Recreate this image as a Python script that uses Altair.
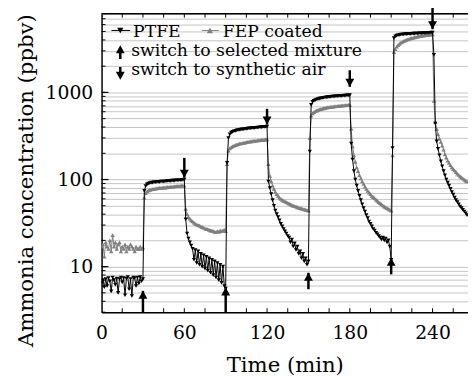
import altair as alt
import pandas as pd

FONT = "DejaVu Serif"

# ---- data ----
time_min = list(range(0, 266))

ptfe_air0 = [6.5, 7.0, 5.8, 7.2, 6.0, 7.4, 6.8, 5.2, 7.5, 7.0, 6.2, 7.3, 5.0, 7.2, 7.5, 6.6,
             7.4, 4.7, 7.3, 7.6, 5.5, 7.2, 4.6, 7.5, 7.4, 6.0, 7.5, 6.4, 7.6, 6.8, 7.2]
ptfe_mix1 = [74, 84, 88, 90, 91, 92, 92, 93, 93, 94, 94, 94, 95, 95, 95, 95, 96, 96, 96, 96,
             97, 97, 97, 98, 98, 98, 98, 99, 99, 100]
ptfe_air1 = [35, 24, 21, 19, 17.5, 16, 12, 15.5, 11, 15, 10.5, 14, 10, 13.5, 9.5, 13, 9, 12.5,
             8.5, 12, 8, 11.5, 7.5, 11, 7, 10.5, 6.5, 10, 6, 5.6]
ptfe_mix2 = [155, 300, 330, 345, 352, 358, 362, 366, 369, 372, 374, 376, 378, 380, 382, 384,
             386, 387, 389, 390, 392, 393, 395, 396, 398, 399, 400, 402, 403, 405]
ptfe_air2 = [95, 80, 68, 58, 50, 44, 40, 37, 34, 31, 29, 27, 25.5, 24, 22.5, 21.5, 19, 20.5,
             17, 18.5, 15.5, 17, 14, 15, 12.5, 14, 11.5, 12.5, 10.5, 11.5]
ptfe_mix3 = [210, 720, 780, 800, 815, 830, 840, 848, 855, 862, 868, 873, 878, 882, 886, 890,
             893, 896, 899, 902, 905, 908, 911, 913, 916, 918, 921, 924, 927, 930]
ptfe_air3 = [259, 170, 125, 100, 85, 74, 65, 58, 52, 47, 43, 39, 36, 33, 31, 29, 27, 26, 24.5,
             23.5, 22.5, 21.5, 20.5, 21.5, 20, 21, 19, 20, 17, 12]
ptfe_mix4 = [230, 4200, 4400, 4480, 4530, 4570, 4600, 4620, 4640, 4660, 4670, 4680, 4690, 4700,
             4710, 4720, 4730, 4740, 4750, 4760, 4770, 4780, 4790, 4800, 4810, 4820, 4830,
             4840, 4850, 4860]
ptfe_air4 = [2700, 440, 274, 225, 190, 162, 142, 125, 112, 100, 92, 85, 78, 72, 67, 62, 58, 55,
             52, 49, 47, 45, 43, 41, 39]

fep_air0 = [17, 18, 13, 19, 17, 16, 20, 15, 23, 17, 19, 16, 18, 19, 15, 17, 16, 18, 15, 17, 16,
            18, 17, 16, 15, 17, 16, 16, 17, 16, 16.5]
fep_mix1 = [62, 70, 73, 75, 76, 77, 77.5, 78, 78.5, 79, 79.5, 80, 80, 80.5, 81, 81, 81.5, 82, 82,
            82.5, 83, 83, 83.5, 84, 84, 84, 84.5, 85, 85, 85]
fep_air1 = [46, 40, 37, 35.5, 34, 33, 32, 31, 30.5, 30, 29.5, 29, 28.5, 28, 27.5, 27, 27, 26.5,
            26, 26, 25.5, 25, 25, 25.5, 25, 26, 25.5, 26, 26.5, 25.5]
fep_mix2 = [150, 215, 228, 235, 240, 245, 249, 252, 255, 258, 260, 262, 264, 266, 268, 270, 272,
            274, 275, 277, 278, 280, 281, 282, 284, 285, 286, 287, 288, 289]
fep_air2 = [150, 110, 95, 85, 78, 72, 68, 65, 62, 60, 58.5, 57, 56, 55, 54, 53, 52, 51, 50, 49.5,
            49, 48, 47.5, 47, 46.5, 46, 45.5, 45, 44.5, 44]
fep_mix3 = [300, 540, 575, 595, 610, 620, 630, 638, 645, 652, 658, 663, 668, 672, 676, 680, 684,
            688, 691, 694, 697, 700, 703, 706, 709, 711, 714, 716, 718, 720]
fep_air3 = [385, 240, 190, 160, 138, 125, 112, 103, 95, 89, 83, 78, 74, 71, 68, 65, 63, 61, 59,
            57, 55, 53.5, 52, 50.5, 49, 48, 47, 46, 45, 44]
fep_mix4 = [190, 2900, 3150, 3350, 3500, 3620, 3720, 3800, 3880, 3950, 4010, 4070, 4120, 4170,
            4210, 4250, 4290, 4330, 4370, 4400, 4430, 4460, 4490, 4520, 4540, 4560, 4580, 4600,
            4615, 4630]
fep_air4 = [800, 460, 380, 330, 295, 270, 245, 220, 195, 178, 165, 155, 146, 138, 132, 127, 122,
            117, 113, 109, 106, 103, 100, 97, 95]

ptfe = (ptfe_air0 + ptfe_mix1 + ptfe_air1 + ptfe_mix2 + ptfe_air2 + ptfe_mix3 + ptfe_air3
        + ptfe_mix4 + ptfe_air4)
fep = (fep_air0 + fep_mix1 + fep_air1 + fep_mix2 + fep_air2 + fep_mix3 + fep_air3
       + fep_mix4 + fep_air4)

# switch annotations
down_t = [60, 120, 180, 240]
down_top = [177, 648, 1795, 9350]
down_tip = [105, 427, 1160, 5310]
up_t = [30, 90, 150, 210]
up_bottom = [3.0, 3.0, 5.5, 8.15]
up_tip = [5.27, 5.77, 8.5, 12.6]

# legend texts
legend_labels = ["PTFE", "FEP coated", "switch to selected mixture", "switch to synthetic air"]

x_ticks = [0, 60, 120, 180, 240]
x_minor = [15, 30, 45, 60, 75, 90, 105, 120, 135, 150, 165, 180, 195, 210, 225, 240, 255]
y_major = [10, 100, 1000]
y_grid = [3, 4, 5, 6, 7, 8, 9, 10, 20, 30, 40, 50, 60, 70, 80, 90,
          100, 200, 300, 400, 500, 600, 700, 800, 900,
          1000, 2000, 3000, 4000, 5000, 6000, 7000, 8000]

W, H = 372, 303
GRAY = "#7f7f7f"

df = pd.DataFrame({"t": time_min, "PTFE": ptfe, "FEP": fep})
down_df = pd.DataFrame({"t": down_t, "top": down_top, "tip": down_tip})
up_df = pd.DataFrame({"t": up_t, "bottom": up_bottom, "tip": up_tip})
ymaj_df = pd.DataFrame({"v": y_major})
ygrid_df = pd.DataFrame({"v": y_grid})
xmin_df = pd.DataFrame({"t": x_minor})

xs = alt.Scale(domain=[0, W / 1.4], nice=False, zero=False)
ys = alt.Scale(type="log", domain=[3, 8000], nice=False)

x_axis = alt.Axis(values=x_ticks, grid=False, ticks=False, tickSize=0, labelFlush=False,
                  labelFont=FONT, labelFontSize=19, labelColor="black", labelPadding=27,
                  labelBaseline="alphabetic", domainColor="black", domainWidth=1.5,
                  title="Time (min)", titleFont=FONT, titleFontSize=21.5,
                  titleFontWeight="normal", titleColor="black", titleX=W / 2, titleY=60,
                  titleBaseline="alphabetic")
y_axis = alt.Axis(values=y_grid, format="d",
                  labelExpr="datum.value == 10 || datum.value == 100 || datum.value == 1000 ? datum.label : ''",
                  grid=True, gridColor="#c4c4c4", gridWidth=1, ticks=False, tickSize=0,
                  labelOverlap=False, labelFlush=False,
                  labelFont=FONT, labelFontSize=19, labelColor="black", labelPadding=9,
                  domainColor="black", domainWidth=1.5,
                  title="Ammonia concentration (ppbv)", titleFont=FONT, titleFontSize=21.5,
                  titleFontWeight="normal", titleColor="black", titleX=-70, titleY=169,
                  titleBaseline="alphabetic")


def X(field):
    return alt.X(field, type="quantitative", scale=xs, axis=x_axis)


def Y(field):
    return alt.Y(field, type="quantitative", scale=ys, axis=y_axis)


base = alt.Chart(df)
fep_line = base.mark_line(color=GRAY, strokeWidth=1, clip=True).encode(x=X("t"), y=Y("FEP"))
fep_pts = base.mark_point(shape="triangle-up", filled=True, size=20, color=GRAY, opacity=1,
                          clip=True).encode(x=X("t"), y=Y("FEP"))
ptfe_line = base.mark_line(color="black", strokeWidth=1, clip=True).encode(x=X("t"), y=Y("PTFE"))
ptfe_pts = base.mark_point(shape="triangle-down", filled=True, size=18, color="black",
                           opacity=1, clip=True).encode(x=X("t"), y=Y("PTFE"))

# inward ticks
y_minor_ticks = alt.Chart(ygrid_df).mark_rule(color="black", strokeWidth=1).encode(
    y=Y("v"), x=alt.value(0), x2=alt.value(4))
y_major_ticks = alt.Chart(ymaj_df).mark_rule(color="black", strokeWidth=1.2).encode(
    y=Y("v"), x=alt.value(0), x2=alt.value(7))
x_bottom_ticks = alt.Chart(xmin_df).mark_rule(color="black", strokeWidth=1).encode(
    x=X("t"), y=alt.value(H), y2=alt.value(H - 4))
x_top_ticks = alt.Chart(xmin_df).mark_rule(color="black", strokeWidth=1).encode(
    x=X("t"), y=alt.value(0), y2=alt.value(4))
one = pd.DataFrame({"a": [0]})
top_border = alt.Chart(one).mark_rule(color="black", strokeWidth=1.5).encode(
    x=alt.value(0), x2=alt.value(W), y=alt.value(0))

# switch arrows
HEAD_DOWN = "M-1,-1.8L1,-1.8L0,0Z"
HEAD_UP = "M-1,1.8L1,1.8L0,0Z"
down_shaft = alt.Chart(down_df).mark_rule(color="black", strokeWidth=2.5).encode(
    x=X("t"), y=Y("top"), y2="tip:Q")
down_head = alt.Chart(down_df).mark_point(shape=HEAD_DOWN, filled=True, size=81, color="black",
                                          opacity=1).encode(x=X("t"), y=Y("tip"))
up_shaft = alt.Chart(up_df).mark_rule(color="black", strokeWidth=2.5).encode(
    x=X("t"), y=Y("bottom"), y2="tip:Q")
up_head = alt.Chart(up_df).mark_point(shape=HEAD_UP, filled=True, size=81, color="black",
                                      opacity=1).encode(x=X("t"), y=Y("tip"))

leg_df = pd.DataFrame({"label": legend_labels})


def txt(i, x, y):
    return alt.Chart(leg_df).transform_filter(
        alt.datum.label == legend_labels[i]
    ).mark_text(style="legtext", align="left", baseline="alphabetic", font=FONT,
                fontSize=17.5, color="black").encode(
        x=alt.value(x), y=alt.value(y), text="label:N")


leg = [
    alt.Chart(one).mark_rule(color="black", strokeWidth=1).encode(
        x=alt.value(10), x2=alt.value(29), y=alt.value(17)),
    alt.Chart(one).mark_point(shape="triangle-down", filled=True, size=40, color="black",
                              opacity=1).encode(x=alt.value(19), y=alt.value(17)),
    txt(0, 32, 23.5),
    alt.Chart(one).mark_rule(color=GRAY, strokeWidth=1).encode(
        x=alt.value(102), x2=alt.value(119), y=alt.value(17)),
    alt.Chart(one).mark_point(shape="triangle-up", filled=True, size=40, color=GRAY,
                              opacity=1).encode(x=alt.value(110), y=alt.value(17)),
    txt(1, 123, 23.5),
    alt.Chart(one).mark_rule(color="black", strokeWidth=2.5).encode(
        x=alt.value(19), y=alt.value(46), y2=alt.value(35)),
    alt.Chart(one).mark_point(shape=HEAD_UP, filled=True, size=81, color="black",
                              opacity=1).encode(x=alt.value(19), y=alt.value(32)),
    txt(2, 30, 43),
    alt.Chart(one).mark_rule(color="black", strokeWidth=2.5).encode(
        x=alt.value(19), y=alt.value(54), y2=alt.value(64)),
    alt.Chart(one).mark_point(shape=HEAD_DOWN, filled=True, size=81, color="black",
                              opacity=1).encode(x=alt.value(19), y=alt.value(67)),
    txt(3, 30, 62),
]

chart = alt.layer(
    fep_line, fep_pts, ptfe_line, ptfe_pts,
    y_minor_ticks, y_major_ticks, x_bottom_ticks, x_top_ticks, top_border,
    down_shaft, down_head, up_shaft, up_head, *leg
).properties(
    width=W, height=H,
    autosize=alt.AutoSizeParams(type="none"),
    padding={"left": 95, "top": 3, "right": 0, "bottom": 63},
).configure(
    font=FONT, style={"legtext": {"font": FONT}}
).configure_text(font=FONT).configure_view(stroke=None)

chart.save("out.html", embed_options={"renderer": "svg", "actions": False})
